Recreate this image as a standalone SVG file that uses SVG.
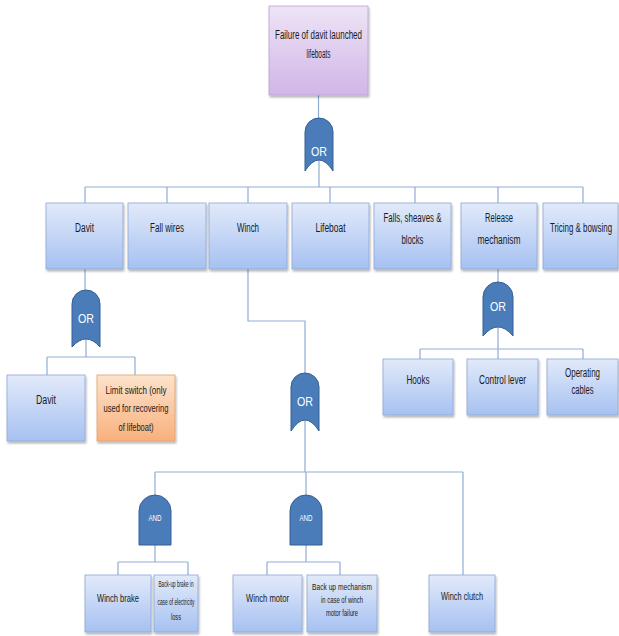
<svg xmlns="http://www.w3.org/2000/svg" width="619" height="636" viewBox="0 0 619 636">
<defs>
<linearGradient id="gBlue" x1="0" y1="0" x2="0" y2="1"><stop offset="0" stop-color="#e2eafa"/><stop offset="1" stop-color="#a6c1f1"/></linearGradient>
<linearGradient id="gPurple" x1="0" y1="0" x2="0" y2="1"><stop offset="0" stop-color="#eee4f6"/><stop offset="1" stop-color="#d0b6e8"/></linearGradient>
<linearGradient id="gOrange" x1="0" y1="0" x2="0" y2="1"><stop offset="0" stop-color="#fde3cc"/><stop offset="1" stop-color="#f8b07c"/></linearGradient>
<filter id="sh" x="-10%" y="-10%" width="130%" height="130%"><feDropShadow dx="1" dy="2" stdDeviation="1.2" flood-color="#000" flood-opacity="0.3"/></filter>
</defs>
<style>
.box{stroke:#8ea8d4;stroke-width:0.8;filter:url(#sh)}
.b{fill:url(#gBlue)}
.p{fill:url(#gPurple);stroke:#b9a3cf}
.o{fill:url(#gOrange);stroke:#e0a070}
.gate{fill:#4a7cba;stroke:#355f93;stroke-width:1}
.ln{fill:none;stroke:#8fadd4;stroke-width:1.2}
text{font-family:"Liberation Sans",Arial,sans-serif;text-anchor:middle;fill:#1a1a1a}
.t{font-size:12px}
.s{font-size:11px}
.xs{font-size:9.5px}
.g{font-size:13px;fill:#fff}
.ga{font-size:9.5px;fill:#fff}
</style>
<rect width="619" height="636" fill="#fff"/>
<g id="connectors">
<path class="ln" d="M318.5,95 V118 M319,160 V187 M85,187 H583 M85,187 V203 M167,187 V203 M248,187 V203 M330,187 V203 M415,187 V203 M498,187 V203 M583,187 V203"/>
<path class="ln" d="M85,269 V290 M86,339 V357 M47,357 H135 M47,357 V375 M135,357 V375"/>
<path class="ln" d="M248,269 V321 H305 V373 M305,420 V472 M155,472 H463 M155,472 V495 M306,472 V495 M463,472 V575"/>
<path class="ln" d="M155,545 V562 M118,562 H188 M118,562 V575 M188,562 V575 M306,545 V562 M267,562 H340 M267,562 V575 M340,562 V575"/>
<path class="ln" d="M498,269 V282 M498,327 V349 M420,349 H583 M420,349 V359 M498,349 V359 M583,349 V359"/>
</g>
<g id="top">
<rect class="box p" x="269" y="6" width="99" height="89"/>
<text class="t" x="318.5" y="39" textLength="87" lengthAdjust="spacingAndGlyphs">Failure of davit launched</text>
<text class="t" x="318.5" y="58" textLength="24" lengthAdjust="spacingAndGlyphs">lifeboats</text>
</g>
<g id="or-top"><path class="gate" d="M305,171 V132 A14,14 0 0 1 333,132 V171 Q319,149 305,171 Z"/><text class="g" x="319" y="156" textLength="16" lengthAdjust="spacingAndGlyphs">OR</text></g>
<g id="davit"><rect class="box b" x="46" y="203" width="77" height="66"/><text class="t" x="84.5" y="232" textLength="19" lengthAdjust="spacingAndGlyphs">Davit</text></g>
<g id="fallwires"><rect class="box b" x="128" y="203" width="78" height="66"/><text class="t" x="167" y="232" textLength="34" lengthAdjust="spacingAndGlyphs">Fall wires</text></g>
<g id="winch"><rect class="box b" x="209" y="203" width="78" height="66"/><text class="t" x="248" y="232" textLength="22" lengthAdjust="spacingAndGlyphs">Winch</text></g>
<g id="lifeboat"><rect class="box b" x="292" y="203" width="77" height="66"/><text class="t" x="330.5" y="232" textLength="30" lengthAdjust="spacingAndGlyphs">Lifeboat</text></g>
<g id="falls"><rect class="box b" x="374" y="203" width="77" height="66"/><text class="t" x="412.5" y="222" textLength="58" lengthAdjust="spacingAndGlyphs">Falls, sheaves &amp;</text><text class="t" x="412.5" y="244" textLength="22" lengthAdjust="spacingAndGlyphs">blocks</text></g>
<g id="release"><rect class="box b" x="461" y="203" width="76" height="66"/><text class="t" x="499" y="222" textLength="28" lengthAdjust="spacingAndGlyphs">Release</text><text class="t" x="499" y="244" textLength="43" lengthAdjust="spacingAndGlyphs">mechanism</text></g>
<g id="tricing"><rect class="box b" x="543" y="203" width="75" height="66"/><text class="t" transform="translate(581,232) scale(0.66,1)" x="0" y="0">Tricing &amp; bowsing</text></g>
<g id="or-davit"><path class="gate" d="M72,347 V304 A14,14 0 0 1 100,304 V347 Q86,331 72,347 Z"/><text class="g" x="86" y="323" textLength="16" lengthAdjust="spacingAndGlyphs">OR</text></g>
<g id="davit2"><rect class="box b" x="7" y="375" width="78" height="66"/><text class="t" x="46" y="404" textLength="20" lengthAdjust="spacingAndGlyphs">Davit</text></g>
<g id="limitswitch"><rect class="box o" x="97" y="375" width="78" height="66"/><text class="s" x="136" y="394" textLength="61" lengthAdjust="spacingAndGlyphs">Limit switch (only</text><text class="s" x="136" y="412" textLength="65" lengthAdjust="spacingAndGlyphs">used for recovering</text><text class="s" x="136" y="431" textLength="35" lengthAdjust="spacingAndGlyphs">of lifeboat)</text></g>
<g id="or-release"><path class="gate" d="M483,336 V297 A15,15 0 0 1 513,297 V336 Q498,318 483,336 Z"/><text class="g" x="498" y="311" textLength="16" lengthAdjust="spacingAndGlyphs">OR</text></g>
<g id="hooks"><rect class="box b" x="383" y="359" width="70" height="56"/><text class="t" x="418" y="384" textLength="23" lengthAdjust="spacingAndGlyphs">Hooks</text></g>
<g id="controllever"><rect class="box b" x="467" y="359" width="71" height="56"/><text class="t" x="502.5" y="384" textLength="47" lengthAdjust="spacingAndGlyphs">Control lever</text></g>
<g id="operating"><rect class="box b" x="547" y="359" width="71" height="56"/><text class="t" x="582.5" y="377" textLength="35" lengthAdjust="spacingAndGlyphs">Operating</text><text class="t" x="582.5" y="394" textLength="22" lengthAdjust="spacingAndGlyphs">cables</text></g>
<g id="or-winch"><path class="gate" d="M291,431 V387 A14,14 0 0 1 319,387 V431 Q305,409 291,431 Z"/><text class="g" x="305" y="406" textLength="16" lengthAdjust="spacingAndGlyphs">OR</text></g>
<g id="and-brake"><path class="gate" d="M139,545 V511 A16,16 0 0 1 171,511 V545 Z"/><text class="ga" x="155" y="521" textLength="13" lengthAdjust="spacingAndGlyphs">AND</text></g>
<g id="and-motor"><path class="gate" d="M290,545 V511 A16,16 0 0 1 322,511 V545 Z"/><text class="ga" x="306" y="521" textLength="13" lengthAdjust="spacingAndGlyphs">AND</text></g>
<g id="winchbrake"><rect class="box b" x="85" y="575" width="66" height="57"/><text class="s" x="118" y="602" textLength="42" lengthAdjust="spacingAndGlyphs">Winch brake</text></g>
<g id="backupbrake"><rect class="box b" x="154" y="575" width="44" height="57"/><text class="xs" x="176" y="587" textLength="35" lengthAdjust="spacingAndGlyphs">Back-up brake in</text><text class="xs" x="176" y="605" textLength="37" lengthAdjust="spacingAndGlyphs">case of electricity</text><text class="xs" x="176" y="620" textLength="10" lengthAdjust="spacingAndGlyphs">loss</text></g>
<g id="winchmotor"><rect class="box b" x="233" y="575" width="69" height="57"/><text class="s" x="267.5" y="602" textLength="43" lengthAdjust="spacingAndGlyphs">Winch motor</text></g>
<g id="backupmech"><rect class="box b" x="307" y="575" width="70" height="57"/><text class="xs" x="342" y="590" textLength="60" lengthAdjust="spacingAndGlyphs">Back up mechanism</text><text class="xs" x="342" y="603" textLength="42" lengthAdjust="spacingAndGlyphs">in case of winch</text><text class="xs" x="342" y="616" textLength="32" lengthAdjust="spacingAndGlyphs">motor failure</text></g>
<g id="winchclutch"><rect class="box b" x="429" y="575" width="66" height="57"/><text class="s" x="462" y="600" textLength="42" lengthAdjust="spacingAndGlyphs">Winch clutch</text></g>
</svg>
